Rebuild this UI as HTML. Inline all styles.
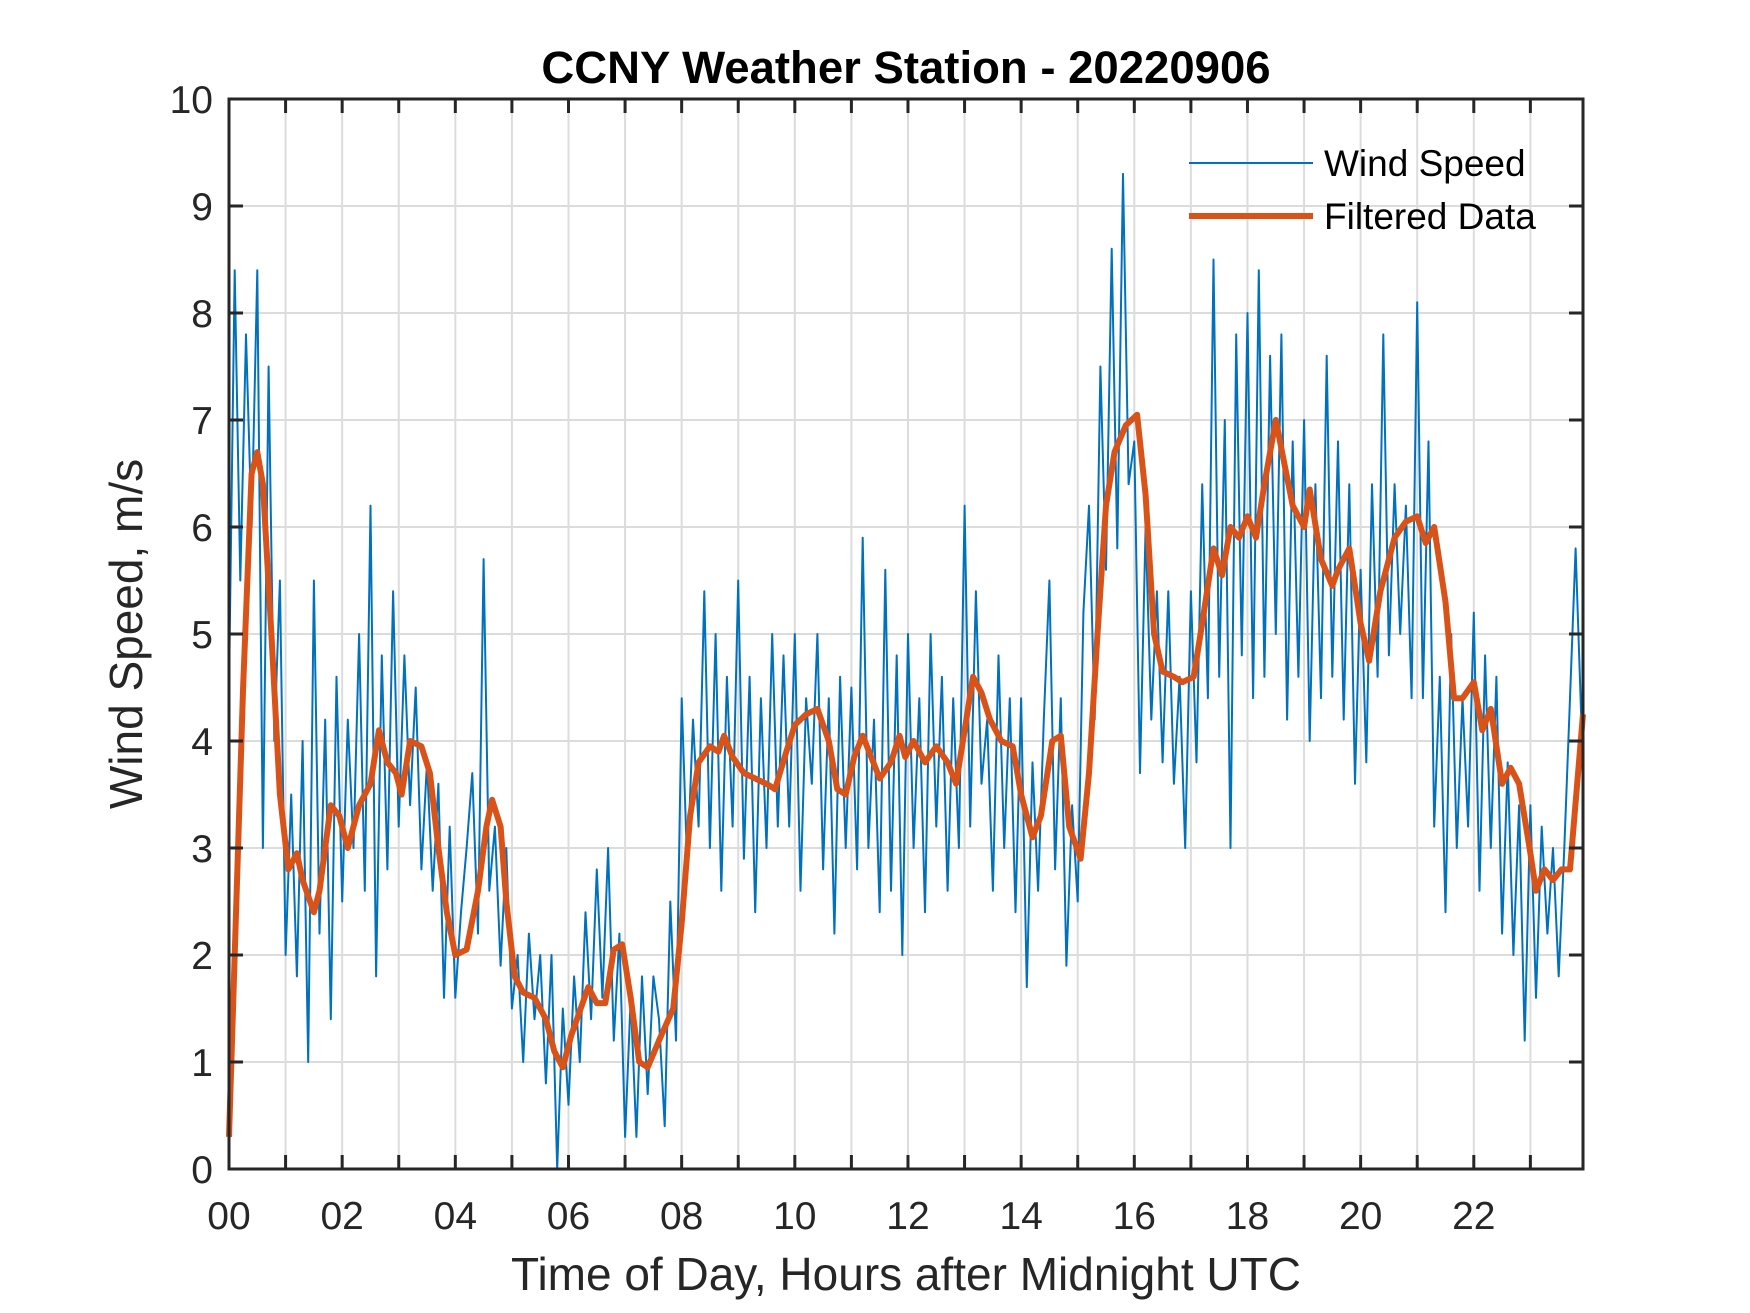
<!DOCTYPE html>
<html><head><meta charset="utf-8"><style>
body{margin:0;background:#fff;}
svg{display:block;font-family:"Liberation Sans",Arial,sans-serif;}
</style></head><body>
<svg id="chart" width="1750" height="1313" viewBox="0 0 1750 1313" xmlns="http://www.w3.org/2000/svg">
<rect width="1750" height="1313" fill="#fff"/>
<g id="grid"></g>
<g id="series"></g>
<rect x="229" y="99" width="1354" height="1070" fill="none" stroke="#262626" stroke-width="3"/>
<g id="ticks"></g>
<text x="906" y="83" text-anchor="middle" font-size="45.5" font-weight="bold" fill="#000">CCNY Weather Station - 20220906</text>
<text x="906" y="1290" text-anchor="middle" font-size="46" fill="#262626">Time of Day, Hours after Midnight UTC</text>
<text transform="translate(142,634) rotate(-90)" text-anchor="middle" font-size="46" fill="#262626">Wind Speed, m/s</text>
<g>
<line x1="1189" y1="163" x2="1313" y2="163" stroke="#0072BD" stroke-width="2"/>
<text x="1324" y="176" font-size="37" fill="#000">Wind Speed</text>
<line x1="1189" y1="216" x2="1313" y2="216" stroke="#D95319" stroke-width="6"/>
<text x="1324" y="229" font-size="37" fill="#000">Filtered Data</text>
</g>
</svg>
<script>
const windStep = 0.1;
const windValues = [
4.5,8.4,5.5,7.8,6.0,8.4,3.0,7.5,4.0,5.5,
2.0,3.5,1.8,4.0,1.0,5.5,2.2,4.2,1.4,4.6,
2.5,4.2,3.0,5.0,2.6,6.2,1.8,4.8,2.8,5.4,
3.2,4.8,3.4,4.5,2.8,3.8,2.6,3.6,1.6,3.2,
1.6,2.4,3.0,3.7,2.2,5.7,2.6,3.2,1.9,3.0,
1.5,2.0,1.0,2.2,1.4,2.0,0.8,2.0,0.0,1.5,
0.6,1.8,1.0,2.4,1.4,2.8,1.6,3.0,1.2,2.2,
0.3,1.6,0.3,1.8,0.7,1.8,1.4,0.4,2.5,1.2,
4.4,2.8,4.2,3.2,5.4,3.0,5.0,2.6,4.6,3.2,
5.5,2.9,4.6,2.4,4.4,3.0,5.0,3.2,4.8,3.2,
5.0,2.6,4.4,3.6,5.0,2.8,4.4,2.2,4.6,3.0,
4.5,2.8,5.9,3.0,4.2,2.4,5.6,2.6,4.8,2.0,
5.0,3.0,4.4,2.4,5.0,3.2,4.6,2.6,4.4,3.0,
6.2,3.2,5.4,3.6,4.2,2.6,4.8,3.0,4.4,2.4,
4.4,1.7,3.8,2.6,4.2,5.5,2.8,4.4,1.9,3.4,
2.5,5.2,6.2,4.2,7.5,5.6,8.6,5.8,9.3,6.4,
6.8,3.7,6.0,4.2,5.4,3.8,5.4,3.6,4.6,3.0,
5.4,3.8,6.4,4.4,8.5,4.6,7.0,3.0,7.8,4.8,
8.0,4.4,8.4,4.6,7.6,5.0,7.8,4.2,6.8,4.6,
7.0,4.0,6.4,4.4,7.6,4.6,6.8,4.2,6.4,3.6,
5.6,3.8,6.4,4.6,7.8,4.8,6.4,5.0,6.2,4.4,
8.1,4.4,6.8,3.2,4.6,2.4,5.0,3.0,4.4,3.2,
5.2,2.6,4.8,3.0,4.6,2.2,3.8,2.0,3.4,1.2,
3.4,1.6,3.2,2.2,3.0,1.8,3.0,4.4,5.8,4.2];
const filtHours = [0,0.1,0.25,0.4,0.5,0.6,0.75,0.9,1.05,1.2,1.3,1.5,1.6,1.8,1.95,2.1,2.3,2.5,2.65,2.8,2.95,3.05,3.2,3.4,3.55,3.7,3.85,4.0,4.2,4.4,4.55,4.65,4.8,4.9,5.05,5.2,5.4,5.6,5.75,5.9,6.05,6.25,6.35,6.5,6.65,6.8,6.95,7.1,7.25,7.4,7.6,7.85,8.0,8.15,8.3,8.5,8.65,8.75,8.9,9.1,9.3,9.5,9.65,9.85,10.0,10.2,10.4,10.6,10.75,10.9,11.05,11.2,11.35,11.5,11.7,11.85,11.95,12.1,12.3,12.5,12.7,12.85,13.0,13.15,13.3,13.45,13.65,13.85,14.0,14.2,14.35,14.55,14.7,14.85,15.05,15.2,15.35,15.5,15.65,15.85,16.05,16.2,16.35,16.5,16.7,16.85,17.05,17.2,17.4,17.55,17.7,17.85,18.0,18.15,18.3,18.5,18.65,18.8,19.0,19.1,19.3,19.5,19.6,19.8,20.0,20.15,20.35,20.6,20.8,21.0,21.15,21.3,21.5,21.65,21.8,22.0,22.15,22.3,22.5,22.65,22.8,23.0,23.1,23.25,23.4,23.55,23.7,23.93];
const filtValues = [0.3,2,4.5,6.5,6.7,6.4,5,3.5,2.8,2.95,2.7,2.4,2.6,3.4,3.3,3.0,3.4,3.6,4.1,3.8,3.7,3.5,4.0,3.95,3.7,3.0,2.4,2.0,2.05,2.6,3.2,3.45,3.2,2.5,1.8,1.65,1.6,1.4,1.1,0.95,1.25,1.55,1.7,1.55,1.55,2.05,2.1,1.6,1.0,0.95,1.2,1.5,2.3,3.3,3.8,3.95,3.9,4.05,3.85,3.7,3.65,3.6,3.55,3.9,4.15,4.25,4.3,4.0,3.55,3.5,3.85,4.05,3.85,3.65,3.8,4.05,3.85,4.0,3.8,3.95,3.8,3.6,4.1,4.6,4.45,4.2,4.0,3.95,3.5,3.1,3.3,4.0,4.05,3.2,2.9,3.7,5.0,6.2,6.7,6.95,7.05,6.3,5.0,4.65,4.6,4.55,4.6,5.1,5.8,5.55,6.0,5.9,6.1,5.9,6.4,7.0,6.6,6.2,6.0,6.35,5.7,5.45,5.6,5.8,5.1,4.75,5.4,5.9,6.05,6.1,5.85,6.0,5.3,4.4,4.4,4.55,4.1,4.3,3.6,3.75,3.6,2.95,2.6,2.8,2.7,2.8,2.8,4.25];
const xTickLabels = ['00','02','04','06','08','10','12','14','16','18','20','22'];
const yTickLabels = ['0','1','2','3','4','5','6','7','8','9','10'];

const NS='http://www.w3.org/2000/svg';
const L=229,R=1583,T=99,B=1169,XMAX=23.93,YMAX=10;
const xs=h=>L+h/XMAX*(R-L);
const ys=v=>B-v/YMAX*(B-T);
function mk(tag,attrs,parent){const e=document.createElementNS(NS,tag);for(const k in attrs)e.setAttribute(k,attrs[k]);parent.appendChild(e);return e;}
const grid=document.getElementById('grid'),ticks=document.getElementById('ticks'),series=document.getElementById('series');
for(let h=1;h<24;h++){
  const x=xs(h);
  const g=mk('line',{x1:x,y1:T,x2:x,y2:B,stroke:'#dcdcdc','stroke-width':2},grid);
  
  
  const t1=mk('line',{x1:x,y1:B,x2:x,y2:B-14,stroke:'#262626','stroke-width':3},ticks);
  
  
  const t2=mk('line',{x1:x,y1:T,x2:x,y2:T+14,stroke:'#262626','stroke-width':3},ticks);
  
  
}
xTickLabels.forEach((lab,i)=>{
  const t=mk('text',{x:xs(i*2),y:B+60,'text-anchor':'middle','font-size':39,fill:'#262626'},ticks);
  t.textContent=lab;
  
  
});
yTickLabels.forEach((lab,i)=>{
  const y=ys(+lab);
  if(i>0&&i<10){
    const g=mk('line',{x1:L,y1:y,x2:R,y2:y,stroke:'#dcdcdc','stroke-width':2},grid);
    
    
    const t1=mk('line',{x1:L,y1:y,x2:L+14,y2:y,stroke:'#262626','stroke-width':3},ticks);
    
    
    const t2=mk('line',{x1:R,y1:y,x2:R-14,y2:y,stroke:'#262626','stroke-width':3},ticks);
    
    
  }
  const t=mk('text',{x:L-16,y:y+14,'text-anchor':'end','font-size':39,fill:'#262626'},ticks);
  t.textContent=lab;
  
  
});
const wp=windValues.map((v,i)=>xs(i*windStep).toFixed(1)+','+ys(v).toFixed(1)).join(' ');
const wl=mk('polyline',{points:wp,fill:'none',stroke:'#0072BD','stroke-width':2,'stroke-linejoin':'round'},series);


const fp=filtValues.map((v,i)=>xs(filtHours[i]).toFixed(1)+','+ys(v).toFixed(1)).join(' ');
const fl=mk('polyline',{points:fp,fill:'none',stroke:'#D95319','stroke-width':6,'stroke-linejoin':'round'},series);


</script>
</body></html>
